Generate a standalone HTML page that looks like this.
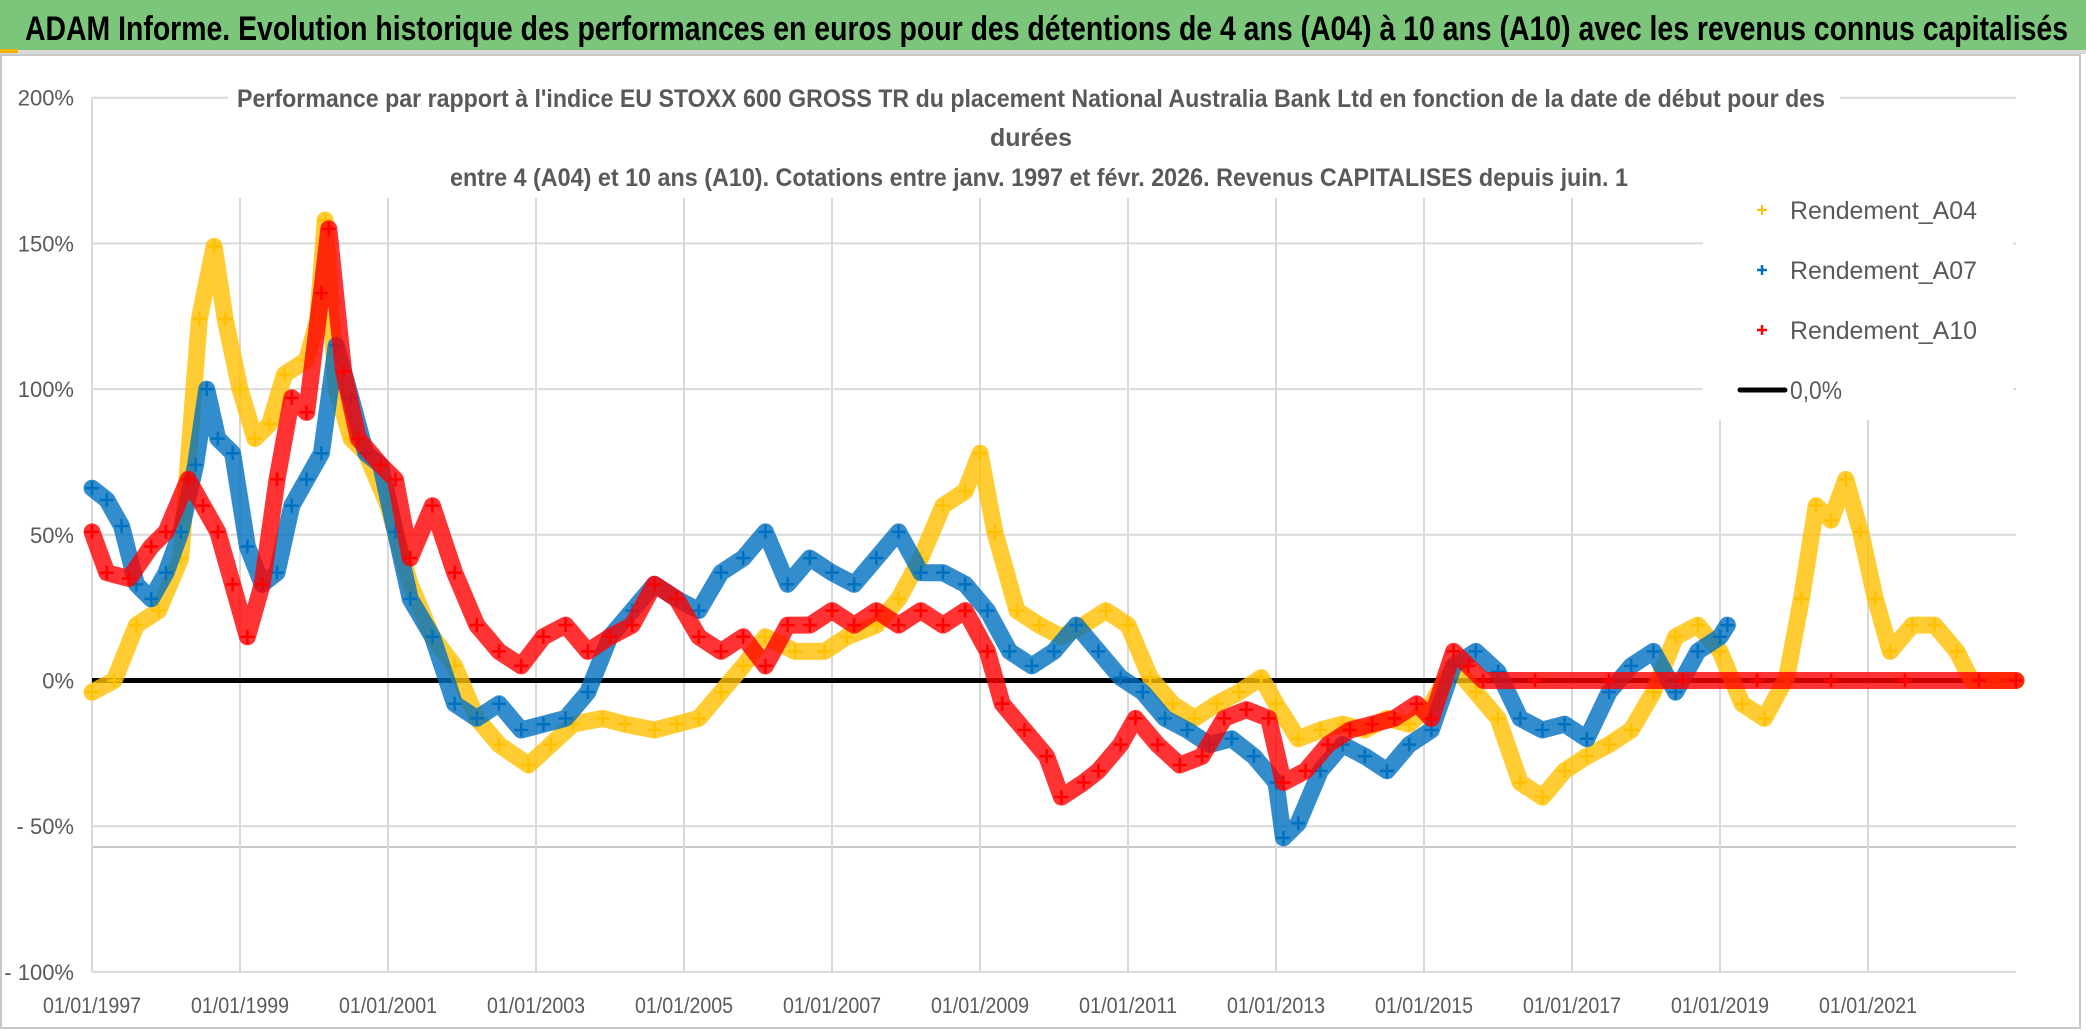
<!DOCTYPE html>
<html><head><meta charset="utf-8"><style>
html,body{margin:0;padding:0;background:#fff;}
svg{display:block;font-family:"Liberation Sans Narrow","Liberation Sans",sans-serif;}
</style></head><body>
<svg id="chart" width="2086" height="1031" viewBox="0 0 2086 1031" xmlns="http://www.w3.org/2000/svg">
<rect x="0" y="0" width="2086" height="1031" fill="#fff"/>
<rect x="0" y="0" width="2086" height="50" fill="#7cc67b"/>
<rect x="0" y="50" width="2086" height="4" fill="#d9d9d9"/>
<rect x="0" y="49" width="18" height="4" fill="#f0b400"/>
<text x="25" y="40" font-size="34" font-weight="bold" fill="#000" textLength="2043" lengthAdjust="spacingAndGlyphs">ADAM Informe. Evolution historique des performances en euros pour des détentions de 4 ans (A04) à 10 ans (A10) avec les revenus connus capitalisés</text>
<rect x="1" y="55" width="2079" height="973" fill="none" stroke="#c8c8c8" stroke-width="2"/>
<g id="grid"></g>
<g id="series"></g>
<g id="labels"></g>
<rect x="228" y="78" width="1612" height="118" fill="#fff"/>
<g fill="#595959" font-size="25" font-weight="bold" text-anchor="middle">
<text x="1031" y="107" textLength="1588" lengthAdjust="spacingAndGlyphs">Performance par rapport à l'indice EU STOXX 600 GROSS TR  du placement National Australia Bank Ltd en fonction de la date de début pour des</text>
<text x="1031" y="146">durées</text>
<text x="1039" y="186" textLength="1178" lengthAdjust="spacingAndGlyphs">entre 4 (A04) et 10 ans (A10). Cotations entre janv. 1997 et févr. 2026. Revenus CAPITALISES depuis juin. 1</text>
</g>
<rect x="1703" y="180" width="310" height="240" fill="#fff"/>
<g font-size="25" fill="#595959">
<g><path d="M1757 210h10M1762 205v10" stroke="#ffc000" stroke-width="2"/><text x="1790" y="219" textLength="187" lengthAdjust="spacingAndGlyphs">Rendement_A04</text></g>
<g><path d="M1757 270h10M1762 265v10" stroke="#0070c0" stroke-width="2.5"/><text x="1790" y="279" textLength="187" lengthAdjust="spacingAndGlyphs">Rendement_A07</text></g>
<g><path d="M1757 330h10M1762 325v10" stroke="#ff0000" stroke-width="2.5"/><text x="1790" y="339" textLength="187" lengthAdjust="spacingAndGlyphs">Rendement_A10</text></g>
<g><path d="M1740 390h45" stroke="#000" stroke-width="5" stroke-linecap="round"/><text x="1790" y="399" textLength="52" lengthAdjust="spacingAndGlyphs">0,0%</text></g>
</g>
</svg>
<script>
const yTicks = [200,150,100,50,0,-50,-100];
const yTickLabels = ["200%","150%","100%","50%","0%","- 50%","- 100%"];
const xTicks = [1997,1999,2001,2003,2005,2007,2009,2011,2013,2015,2017,2019,2021];
const xTickLabels = ["01/01/1997","01/01/1999","01/01/2001","01/01/2003","01/01/2005","01/01/2007","01/01/2009","01/01/2011","01/01/2013","01/01/2015","01/01/2017","01/01/2019","01/01/2021"];

const a04Years = [1997.0,1997.3,1997.6,1997.9,1998.2,1998.45,1998.65,1998.8,1999.0,1999.2,1999.4,1999.6,1999.9,2000.05,2000.15,2000.3,2000.5,2000.7,2001.0,2001.3,2001.6,2001.9,2002.2,2002.5,2002.9,2003.2,2003.5,2003.9,2004.2,2004.6,2004.9,2005.2,2005.5,2005.8,2006.1,2006.5,2006.9,2007.2,2007.6,2007.9,2008.2,2008.5,2008.8,2009.0,2009.2,2009.5,2009.8,2010.1,2010.4,2010.7,2011.0,2011.3,2011.6,2011.9,2012.2,2012.5,2012.8,2013.0,2013.3,2013.6,2013.9,2014.2,2014.5,2014.8,2015.1,2015.4,2015.7,2016.0,2016.3,2016.6,2016.9,2017.2,2017.5,2017.8,2018.1,2018.4,2018.7,2019.0,2019.3,2019.6,2019.9,2020.1,2020.3,2020.5,2020.7,2020.9,2021.1,2021.3,2021.6,2021.9,2022.2,2022.4,2022.7,2023.0];
const a04Values = [-4,0,19,24,42,124,149,124,100,83,88,105,110,124,158,100,83,78,60,33,15,5,-13,-22,-29,-22,-15,-13,-15,-17,-15,-13,-4,5,15,10,10,15,19,28,42,60,65,78,51,24,19,15,19,24,19,1,-8,-13,-8,-4,1,-8,-20,-17,-15,-17,-13,-15,-8,5,-4,-13,-35,-40,-31,-26,-22,-17,-4,15,19,10,-8,-13,1,28,60,55,69,51,28,10,19,19,10,0,0,0];

const a07Years = [1997.0,1997.2,1997.4,1997.6,1997.8,1998.0,1998.2,1998.4,1998.55,1998.7,1998.9,1999.1,1999.3,1999.5,1999.7,1999.9,2000.1,2000.3,2000.5,2000.7,2000.9,2001.1,2001.3,2001.6,2001.9,2002.2,2002.5,2002.8,2003.1,2003.4,2003.7,2004.0,2004.3,2004.6,2004.9,2005.2,2005.5,2005.8,2006.1,2006.4,2006.7,2007.0,2007.3,2007.6,2007.9,2008.2,2008.5,2008.8,2009.1,2009.4,2009.7,2010.0,2010.3,2010.6,2010.9,2011.2,2011.5,2011.8,2012.1,2012.4,2012.7,2013.0,2013.1,2013.3,2013.6,2013.9,2014.2,2014.5,2014.8,2015.1,2015.4,2015.7,2016.0,2016.3,2016.6,2016.9,2017.2,2017.5,2017.8,2018.1,2018.4,2018.7,2019.0,2019.1];
const a07Values = [66,62,53,33,28,37,51,74,100,83,78,46,33,37,60,69,78,115,97,78,74,51,28,15,-8,-13,-8,-17,-15,-13,-4,15,24,33,28,24,37,42,51,33,42,37,33,42,51,37,37,33,24,10,5,10,19,10,1,-4,-13,-17,-22,-20,-26,-35,-54,-49,-31,-22,-26,-31,-22,-17,5,10,3,-13,-17,-15,-20,-4,5,10,-4,10,15,19];

const a10Years = [1997.0,1997.2,1997.5,1997.8,1998.0,1998.3,1998.5,1998.7,1998.9,1999.1,1999.3,1999.5,1999.7,1999.9,2000.1,2000.2,2000.4,2000.6,2000.9,2001.1,2001.3,2001.6,2001.9,2002.2,2002.5,2002.8,2003.1,2003.4,2003.7,2004.0,2004.3,2004.6,2004.9,2005.2,2005.5,2005.8,2006.1,2006.4,2006.7,2007.0,2007.3,2007.6,2007.9,2008.2,2008.5,2008.8,2009.1,2009.3,2009.6,2009.9,2010.1,2010.4,2010.6,2010.9,2011.1,2011.4,2011.7,2012.0,2012.3,2012.6,2012.9,2013.1,2013.4,2013.7,2014.0,2014.3,2014.6,2014.9,2015.1,2015.4,2015.6,2015.8,2016.5,2017.5,2018.5,2019.5,2020.5,2021.5,2022.5,2023.0];
const a10Values = [51,37,35,46,51,69,60,51,33,15,33,69,97,92,133,155,106,83,74,69,42,60,37,19,10,5,15,19,10,15,19,33,28,15,10,15,5,19,19,24,19,24,19,24,19,24,10,-8,-17,-26,-40,-35,-31,-22,-13,-22,-29,-26,-13,-10,-13,-35,-31,-22,-17,-15,-13,-8,-13,10,5,0,0,0,0,0,0,0,0,0];

const NS = "http://www.w3.org/2000/svg";
const X0 = 92, PXY = 74, Y0 = 680.5, PXV = 2.914;
function xs(yr){ return X0 + (yr - 1997) * PXY; }
function ys(v){ return Y0 - v * PXV; }
const grid = document.getElementById('grid');
const labels = document.getElementById('labels');
const series = document.getElementById('series');
function mk(tag, attrs, parent){ const e = document.createElementNS(NS, tag); for (const k in attrs) e.setAttribute(k, attrs[k]); parent.appendChild(e); return e; }

yTicks.forEach((t,i)=>{
  const l = mk('line',{x1:X0,x2:2016,y1:ys(t),y2:ys(t),stroke:'#d9d9d9','stroke-width':2},grid);
  
  
  const tx = mk('text',{x:74,y:ys(t)+8,'text-anchor':'end','font-size':22,fill:'#595959'},labels);
  tx.textContent = yTickLabels[i];
  
  
});
const extra = mk('line',{x1:X0,x2:2016,y1:847,y2:847,stroke:'#c8c8c8','stroke-width':2},grid);


xTicks.forEach((t,i)=>{
  const x = xs(t);
  const l = mk('line',{x1:x,x2:x,y1:(i===0?ys(200):198),y2:ys(-100),stroke:'#d9d9d9','stroke-width':2},grid);
  
  
  const tx = mk('text',{x:x,y:1013,'text-anchor':'middle','font-size':22,fill:'#595959',textLength:98,lengthAdjust:'spacingAndGlyphs'},labels);
  tx.textContent = xTickLabels[i];
  
  
});
const zl = mk('line',{x1:X0,x2:2016,y1:ys(0),y2:ys(0),stroke:'#000','stroke-width':5},series);



function drawSeries(years, vals, color, name){
  const g = mk('g',{},series);
  
  
  const pts = years.map((y,i)=>xs(y).toFixed(1)+','+ys(vals[i]).toFixed(1)).join(' ');
  const pl = mk('polyline',{points:pts,fill:'none',stroke:color,'stroke-width':17,'stroke-linejoin':'round','stroke-linecap':'round',opacity:0.8},g);
  
  
  let d = '';
  years.forEach((y,i)=>{
    const x = xs(y), yy = ys(vals[i]);
    d += 'M'+(x-7)+' '+yy+'h14M'+x+' '+(yy-7)+'v14';
  });
  const p = mk('path',{d:d,stroke:color,'stroke-width':2.5,fill:'none'},g);
  
  
}
drawSeries(a04Years, a04Values, '#ffc000', 'series-a04');
drawSeries(a07Years, a07Values, '#0070c0', 'series-a07');
drawSeries(a10Years, a10Values, '#ff0000', 'series-a10');
</script>
</body></html>
